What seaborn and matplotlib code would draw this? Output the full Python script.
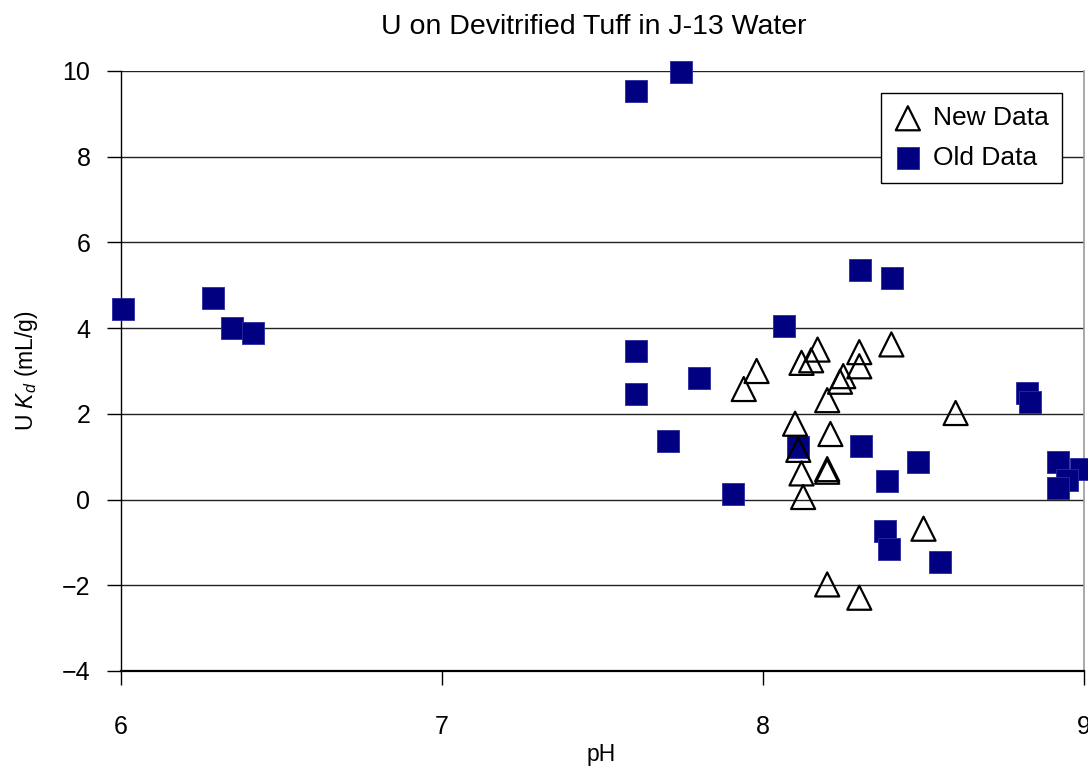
import matplotlib
matplotlib.use("Agg")
import matplotlib.pyplot as plt
import seaborn as sns
import pandas as pd

sns.set_theme(style="white")
plt.rcParams["font.family"] = ["Liberation Sans", "DejaVu Sans"]
plt.rcParams["mathtext.fontset"] = "custom"
plt.rcParams["mathtext.rm"] = "Liberation Sans"
plt.rcParams["mathtext.it"] = "Liberation Sans:italic"
plt.rcParams["text.color"] = "black"
plt.rcParams["axes.labelcolor"] = "black"
plt.rcParams["xtick.color"] = "black"
plt.rcParams["ytick.color"] = "black"

# New sorption measurements
new_ph = [7.98, 7.94, 8.12, 8.15, 8.17, 8.30, 8.30, 8.40, 8.25, 8.24, 8.20,
          8.60, 8.10, 8.21, 8.11, 8.12, 8.20, 8.20, 8.125, 8.50, 8.20, 8.30]
new_kd = [3.00, 2.58, 3.19, 3.25, 3.50, 3.44, 3.11, 3.62, 2.88, 2.75, 2.32,
          2.02, 1.77, 1.53, 1.16, 0.61, 0.71, 0.65, 0.06, -0.68, -1.98, -2.29]

# Earlier measurements
old_ph = [6.007, 6.288, 6.345, 6.412, 7.604, 7.744, 7.605, 7.605, 7.80, 7.703,
          7.908, 8.066, 8.108, 8.303, 8.403, 8.304, 8.387, 8.484, 8.38, 8.393,
          8.551, 8.823, 8.832, 8.92, 8.99, 8.946, 8.92]
old_kd = [4.44, 4.70, 4.01, 3.89, 9.54, 9.98, 3.46, 2.47, 2.84, 1.37,
          0.14, 4.05, 1.23, 5.36, 5.18, 1.25, 0.44, 0.87, -0.73, -1.15,
          -1.46, 2.48, 2.28, 0.88, 0.71, 0.46, 0.26]

y_ticks = [-4, -2, 0, 2, 4, 6, 8, 10]
x_ticks = [6, 7, 8, 9]

new_df = pd.DataFrame({"pH": new_ph, "Kd": new_kd})
old_df = pd.DataFrame({"pH": old_ph, "Kd": old_kd})

W, H = 1088, 767
fig = plt.figure(figsize=(W / 100, H / 100), dpi=100)
ax_l, ax_r, ax_t, ax_b = 121, 1084, 71, 671
ax = fig.add_axes([ax_l / W, 1 - ax_b / H, (ax_r - ax_l) / W, (ax_b - ax_t) / H])

ax.set_xlim(6, 9)
ax.set_ylim(-4, 10)
ax.set_yticks(y_ticks)
ax.set_xticks(x_ticks)
ax.yaxis.grid(True, color="#222222", linewidth=1.0)
ax.set_axisbelow(True)

sns.scatterplot(data=old_df, x="pH", y="Kd", marker="s", s=265,
                color="#000080", edgecolor="#2a2aa0", linewidth=0.6,
                ax=ax, label="Old Data", clip_on=False, zorder=3)
sns.scatterplot(data=new_df, x="pH", y="Kd", marker="^", s=300,
                facecolor="none", edgecolor="black", linewidth=1.6,
                ax=ax, label="New Data", clip_on=False, zorder=4)

ax.spines["top"].set_visible(False)
ax.spines["right"].set_color("#999999")
ax.spines["right"].set_linewidth(1.2)
ax.spines["left"].set_color("black")
ax.spines["bottom"].set_color("black")
ax.spines["left"].set_linewidth(1.0)
ax.spines["bottom"].set_linewidth(1.6)

ax.tick_params(axis="both", which="major", direction="out", length=10,
               width=1.0, color="black", labelsize=18, labelcolor="black",
               bottom=True, left=True)
ax.tick_params(axis="x", pad=22)
ax.tick_params(axis="y", pad=12)

ax.set_xlabel("")
ax.set_ylabel(r"U $K_d$ (mL/g)", fontsize=16.5, labelpad=16)
fig.text(601 / W, 1 - 761 / H, "pH", ha="center", va="baseline", fontsize=16.5)
fig.text(594 / W, 1 - 27 / H, "U on Devitrified Tuff in J-13 Water",
         ha="center", va="center", fontsize=20.5)

handles, labels = ax.get_legend_handles_labels()
order = [labels.index("New Data"), labels.index("Old Data")]
leg = ax.legend([handles[i] for i in order], [labels[i] for i in order],
                loc="upper right",
                bbox_to_anchor=((1062 - ax_l) / (ax_r - ax_l), 1 - (93 - ax_t) / (ax_b - ax_t)),
                frameon=True, fancybox=False, framealpha=1, edgecolor="black",
                fontsize=19, handletextpad=0.45, borderpad=0.5, borderaxespad=0,
                labelspacing=0.6, handlelength=1.0, markerscale=1.0)
leg.get_frame().set_linewidth(1.0)

fig.savefig("out.png", dpi=100)
